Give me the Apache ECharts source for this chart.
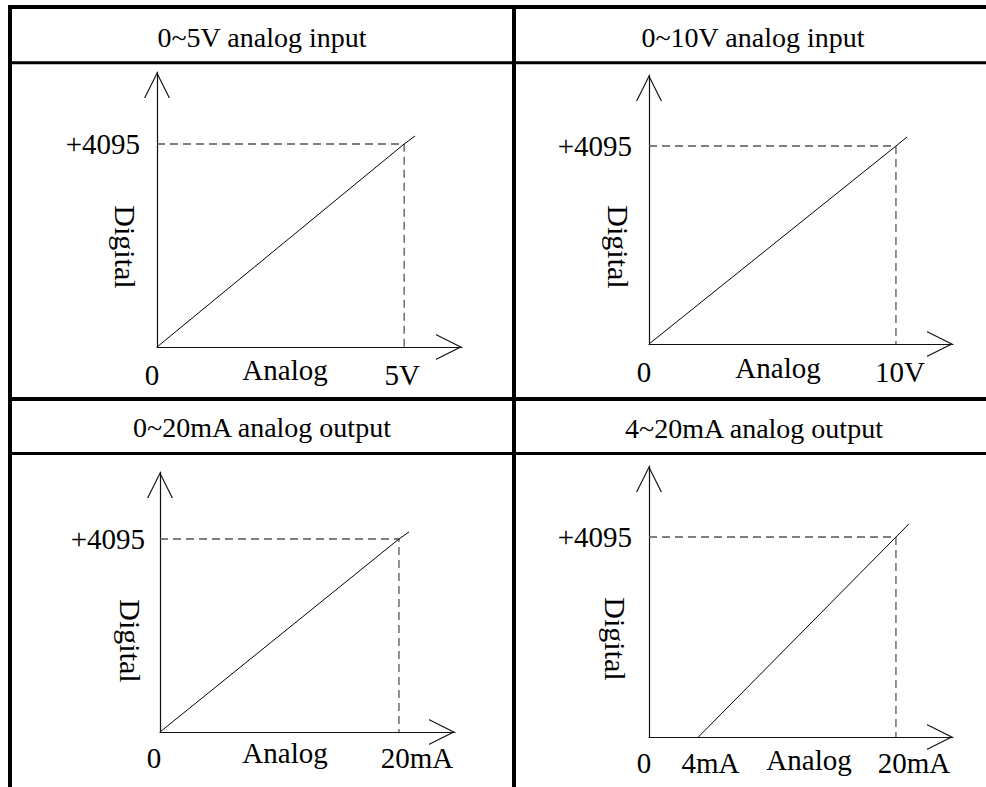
<!DOCTYPE html>
<html>
<head>
<meta charset="utf-8">
<script src="https://cdn.jsdelivr.net/npm/echarts@6/dist/echarts.min.js"></script>
<style>
html,body{margin:0;padding:0;background:#fff;}
#chart{width:986px;height:787px;}
</style>
</head>
<body>
<div id="chart"></div>
<script>
// ---- data ----
const panelTitles = ['0~5V analog input', '0~10V analog input', '0~20mA analog output', '4~20mA analog output'];
const xAxisName = 'Analog';
const yAxisName = 'Digital';
const xTickValues = [[0, 5], [0, 10], [0, 20], [0, 4, 20]];
const xTickLabels = [['0', '5V'], ['0', '10V'], ['0', '20mA'], ['0', '4mA', '20mA']];
const yTickValue = 4095;
const yTickLabel = '+4095';
const xAxisMax = [6.17, 12.31, 24.69, 24.62];
const yAxisMax = [5547, 5563, 5517, 5549];
const xAxisInterval = [5, 10, 20, 4];
// transfer line: start, full-scale point, overshoot end
const line1 = [[0, 0], [5, 4095], [5.22, 4256]];
const line2 = [[0, 0], [10, 4095], [10.45, 4281]];
const line3 = [[0, 0], [20, 4095], [20.84, 4244]];
const line4 = [[4, 0], [20, 4095], [21.05, 4364]];
// dashed guides to full scale
const guide1 = [[0, 4095], [5, 4095], [5, 0]];
const guide2 = [[0, 4095], [10, 4095], [10, 0]];
const guide3 = [[0, 4095], [20, 4095], [20, 0]];
const guide4 = [[0, 4095], [20, 4095], [20, 0]];
const lines = [line1, line2, line3, line4];
const guides = [guide1, guide2, guide3, guide4];

// ---- layout / style ----
const FONT = '"Liberation Serif", "Times New Roman", serif';
const grids = [
  {left: 157, top: 72, width: 305, height: 275},
  {left: 649, top: 75, width: 304, height: 269},
  {left: 160, top: 472, width: 295, height: 260},
  {left: 649, top: 466, width: 304, height: 271}
];
const xLabelShift = [[-5, -2], [-5, 4], [-6, 18], [-5, 12, 18]];
const xLabelMargin = [13, 13, 11, 11];
const yLabelMargin = [17, 17, 15, 17];
const titlePos = [[262, 37], [753, 37], [262, 427], [754, 428]];
const analogPos = [[285, 370], [778, 368], [285, 753], [809, 760]];
const digitalPos = [[125, 247], [618, 247], [130, 641], [615, 639]];

const chevron = 'path://M50 0 L100 100 L95 100 L50 10 L5 100 L0 100 Z';

const chart = echarts.init(document.getElementById('chart'), null, {renderer: 'svg'});

const xAxes = [], yAxes = [], series = [];
for (let i = 0; i < 4; i++) {
  const rich = {};
  xTickLabels[i].forEach((t, j) => {
    const s = xLabelShift[i][j];
    rich['k' + j] = {
      fontFamily: FONT, fontSize: 29, color: '#000',
      padding: s >= 0 ? [0, 0, 0, 2 * s] : [0, -2 * s, 0, 0]
    };
  });
  const axisLine = {
    show: true,
    symbol: ['none', chevron],
    symbolSize: [27, 26],
    symbolOffset: [0, -13],
    lineStyle: {color: '#111', width: 1.2}
  };
  xAxes.push({
    type: 'value', gridIndex: i, min: 0, max: xAxisMax[i], interval: xAxisInterval[i],
    axisLine: axisLine, axisTick: {show: false}, splitLine: {show: false},
    axisLabel: {
      margin: xLabelMargin[i], fontFamily: FONT, fontSize: 29, color: '#000',
      showMinLabel: true, showMaxLabel: true, hideOverlap: false,
      rich: rich,
      formatter: (v) => {
        const idx = xTickValues[i].findIndex(t => Math.abs(t - v) < 1e-9);
        return idx < 0 ? '' : '{k' + idx + '|' + xTickLabels[i][idx] + '}';
      }
    }
  });
  yAxes.push({
    type: 'value', gridIndex: i, min: 0, max: yAxisMax[i], interval: yTickValue,
    axisLine: axisLine, axisTick: {show: false}, splitLine: {show: false},
    axisLabel: {
      margin: yLabelMargin[i], fontFamily: FONT, fontSize: 29, color: '#000',
      showMinLabel: true, showMaxLabel: true, hideOverlap: false,
      formatter: (v) => Math.abs(v - yTickValue) < 1e-9 ? yTickLabel : ''
    }
  });
  series.push({
    type: 'line', xAxisIndex: i, yAxisIndex: i, data: guides[i],
    symbol: 'none', silent: true, z: 2,
    lineStyle: {color: '#555', width: 1.3, type: [8, 5]}
  });
  series.push({
    type: 'line', xAxisIndex: i, yAxisIndex: i, data: lines[i],
    symbol: 'none', silent: true, z: 3,
    lineStyle: {color: '#000', width: 1}
  });
}

const graphic = [];
const W = 986, H = 787;
const hLine = (y, w) => ({type: 'line', shape: {x1: 8, y1: y, x2: W, y2: y}, style: {stroke: '#000', lineWidth: w}, silent: true});
const vLine = (x, w) => ({type: 'line', shape: {x1: x, y1: 5, x2: x, y2: H}, style: {stroke: '#000', lineWidth: w}, silent: true});
graphic.push(hLine(7, 4), hLine(62.7, 3), hLine(399, 4), hLine(453.5, 3), vLine(10, 4), vLine(514, 4));
for (let i = 0; i < 4; i++) {
  graphic.push({
    type: 'text', x: titlePos[i][0], y: titlePos[i][1], silent: true,
    style: {text: panelTitles[i], font: '28px ' + FONT, fill: '#000', textAlign: 'center', textVerticalAlign: 'middle'}
  });
  graphic.push({
    type: 'text', x: analogPos[i][0], y: analogPos[i][1], silent: true,
    style: {text: xAxisName, font: '29px ' + FONT, fill: '#000', textAlign: 'center', textVerticalAlign: 'middle'}
  });
  graphic.push({
    type: 'text', x: digitalPos[i][0], y: digitalPos[i][1], rotation: -Math.PI / 2, silent: true,
    style: {text: yAxisName, font: '30px ' + FONT, fill: '#000', textAlign: 'center', textVerticalAlign: 'middle'}
  });
}

chart.setOption({
  animation: false,
  backgroundColor: '#fff',
  grid: grids.map(g => Object.assign({containLabel: false}, g)),
  xAxis: xAxes,
  yAxis: yAxes,
  series: series,
  graphic: graphic
});
</script>
</body>
</html>
